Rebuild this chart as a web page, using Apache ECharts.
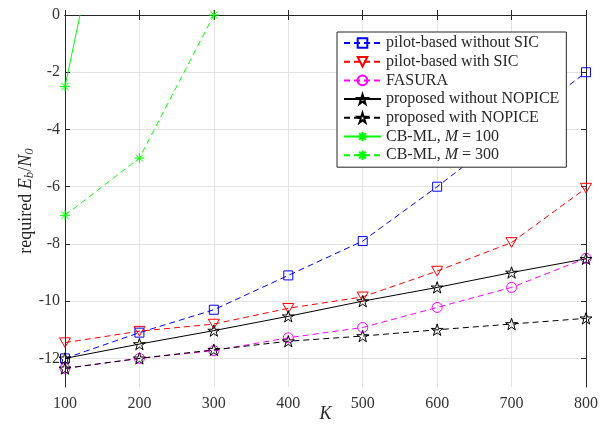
<!DOCTYPE html>
<html>
<head>
<meta charset="utf-8">
<script src="https://cdn.jsdelivr.net/npm/echarts@6/dist/echarts.min.js"></script>
<style>html,body{margin:0;padding:0;background:#fff;}#c{width:605px;height:432px;}</style>
</head>
<body>
<div id="c"></div>
<script>
const kValues = [100, 200, 300, 400, 500, 600, 700, 800];
const pilotNoSIC = [-12.0, -11.1, -10.3, -9.1, -7.9, -6.0, -4.0, -2.0];
const pilotSIC = [-11.45, -11.05, -10.8, -10.25, -9.85, -8.95, -7.95, -6.05];
const fasura = [-12.35, -12.0, -11.73, -11.28, -10.92, -10.22, -9.52, -8.5];
const propNoNopice = [-12.0, -11.5, -11.03, -10.53, -10.0, -9.52, -9.0, -8.52];
const propNopice = [-12.35, -12.0, -11.7, -11.4, -11.22, -11.0, -10.8, -10.6];
const cbK100 = [100, 200];
const cbml100 = [-2.5, 9.9];
const cbK300 = [100, 200, 300];
const cbml300 = [-7.0, -5.0, 0.0];
const xTicks = [100, 200, 300, 400, 500, 600, 700, 800];
const yTicks = [-12, -10, -8, -6, -4, -2, 0];

const names = [
  'pilot-based without SIC',
  'pilot-based with SIC',
  'FASURA',
  'proposed without NOPICE',
  'proposed with NOPICE',
  'CB-ML, M = 100',
  'CB-ML, M = 300'
];

const STAR = 'path://M0,-1L0.2245,-0.309L0.951,-0.309L0.363,0.118L0.588,0.809L0,0.382L-0.588,0.809L-0.363,0.118L-0.951,-0.309L-0.2245,-0.309Z';
const ASTER = 'path://M0,-1L0,1M-1,0L1,0M-0.707,-0.707L0.707,0.707M-0.707,0.707L0.707,-0.707';
const TRI_DOWN = 'path://M-1,-0.85L1,-0.85L0,0.9Z';
const FONT = 'Liberation Serif';
const DASH = [6, 4];

function zip(xs, ys) { return xs.map((x, i) => [x, ys[i]]); }

function mk(name, xs, ys, color, symbol, size, dashed) {
  return {
    name: name,
    type: 'line',
    data: zip(xs, ys),
    symbol: symbol,
    symbolSize: size,
    symbolKeepAspect: true,
    clip: true,
    lineStyle: { color: color, width: 1, type: dashed ? DASH : 'solid' },
    itemStyle: { color: 'rgba(0,0,0,0)', borderColor: color, borderWidth: 1 },
    emphasis: { disabled: true }
  };
}

const chart = echarts.init(document.getElementById('c'), null, { renderer: 'canvas' });

const axisLineStyle = { color: '#262626', width: 1 };
const gridLine = { show: true, lineStyle: { color: '#e3e3e3', width: 1 } };

chart.setOption({
  animation: false,
  backgroundColor: '#fff',
  grid: { left: 65, right: 19, top: 15, bottom: 45, containLabel: false, outerBoundsMode: 'none' },
  legend: {
    orient: 'vertical',
    left: 337,
    top: 32,
    padding: [3, 7, 4, 6],
    itemGap: 2.7,
    itemWidth: 37,
    itemHeight: 12,
    borderColor: '#262626',
    borderWidth: 1,
    backgroundColor: '#fff',
    data: names,
    textStyle: {
      fontFamily: FONT, fontSize: 16, color: '#262626', lineHeight: 16,
      rich: {
        n: { fontFamily: FONT, fontSize: 16, color: '#262626', lineHeight: 16 },
        i: { fontFamily: FONT, fontSize: 16, fontStyle: 'italic', color: '#262626', lineHeight: 16 }
      }
    },
    formatter: function (name) {
      const m = name.match(/^CB-ML, M = (\d+)$/);
      if (m) return '{n|CB-ML, }{i|M}{n| = ' + m[1] + '}';
      return name;
    },
    selectedMode: false
  },
  xAxis: [
    {
      type: 'value', min: 100, max: 800, interval: 100, position: 'bottom',
      name: 'K', nameLocation: 'middle', nameGap: 18, nameMoveOverlap: false,
      nameTextStyle: { fontFamily: FONT, fontSize: 18, fontStyle: 'italic', color: '#262626' },
      axisLine: { show: true, lineStyle: axisLineStyle },
      axisTick: { show: true, inside: true, length: 5, lineStyle: axisLineStyle },
      axisLabel: { fontFamily: FONT, fontSize: 16, color: '#333', margin: 9 },
      splitLine: gridLine
    },
    {
      type: 'value', min: 100, max: 800, interval: 100, position: 'top',
      axisLine: { show: true, lineStyle: axisLineStyle },
      axisTick: { show: true, inside: true, length: 5, lineStyle: axisLineStyle },
      axisLabel: { show: false },
      splitLine: { show: false }
    }
  ],
  yAxis: [
    {
      type: 'value', min: -13, max: 0, position: 'left',
      name: '{n|required }{i|E}{s|b}{n|/}{i|N}{s|0}',
      nameLocation: 'middle', nameGap: 29, nameRotate: 90, nameMoveOverlap: false,
      nameTextStyle: {
        fontFamily: FONT, fontSize: 18, color: '#262626',
        rich: {
          n: { fontFamily: FONT, fontSize: 18, color: '#262626', lineHeight: 20 },
          i: { fontFamily: FONT, fontSize: 18, fontStyle: 'italic', color: '#262626', lineHeight: 20 },
          s: { fontFamily: FONT, fontSize: 13, fontStyle: 'italic', color: '#262626', verticalAlign: 'bottom', lineHeight: 20 }
        }
      },
      axisLine: { show: true, lineStyle: axisLineStyle },
      axisTick: { show: true, inside: true, length: 5, lineStyle: axisLineStyle, customValues: yTicks },
      axisLabel: { fontFamily: FONT, fontSize: 16, color: '#333', margin: 5, customValues: yTicks },
      splitLine: gridLine
    },
    {
      type: 'value', min: -13, max: 0, position: 'right',
      axisLine: { show: true, lineStyle: axisLineStyle },
      axisTick: { show: true, inside: true, length: 5, lineStyle: axisLineStyle, customValues: yTicks },
      axisLabel: { show: false, customValues: yTicks },
      splitLine: { show: false }
    }
  ],
  series: [
    mk(names[0], kValues, pilotNoSIC, '#0000ff', 'rect', 9, true),
    mk(names[1], kValues, pilotSIC, '#ff0000', TRI_DOWN, 11, true),
    mk(names[2], kValues, fasura, '#ff00ff', 'circle', 10, true),
    mk(names[3], kValues, propNoNopice, '#000000', STAR, 12, false),
    mk(names[4], kValues, propNopice, '#000000', STAR, 12, true),
    mk(names[5], cbK100, cbml100, '#00ff00', ASTER, 10, false),
    mk(names[6], cbK300, cbml300, '#00ff00', ASTER, 10, true)
  ]
});
</script>
</body>
</html>
